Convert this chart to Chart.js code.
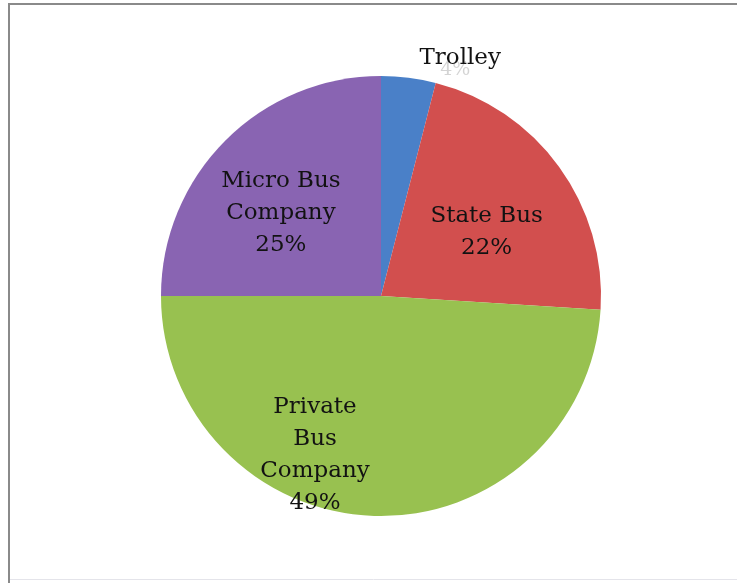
<!DOCTYPE html>
<html>
<head>
<meta charset="utf-8">
<script src="https://cdn.jsdelivr.net/npm/chart.js@4"></script>
<style>
  html, body { margin: 0; padding: 0; background: #fff; }
  #wrap { position: relative; width: 737px; height: 583px; }
</style>
</head>
<body>
<div id="wrap"><canvas id="pieChart" width="737" height="583"></canvas></div>
<script>
// Data for the pie
var labels = ['Trolley', 'State Bus', 'Private Bus Company', 'Micro Bus Company'];
var shares = [4, 22, 49, 25];
var colors = ['#4a80c8', '#d24f4e', '#98c150', '#8964b2'];

// Label text lines and anchor (relative to centre, in units of radius)
var labelLines = [['Trolley'], ['State Bus', '22%'], ['Private', 'Bus', 'Company', '49%'], ['Micro Bus', 'Company', '25%']];
var labelAnchor = [[0.36, -1.08], [0.48, -0.29], [-0.30, 0.725], [-0.455, -0.375]];

var lineH = 32;

// frame around the chart
var framePlugin = {
  id: 'frame',
  beforeDraw: function (chart) {
    var c = chart.ctx;
    c.save();
    c.fillStyle = '#fff';
    c.fillRect(0, 0, chart.width, chart.height);
    c.strokeStyle = '#8a8a8a';
    c.lineWidth = 2;
    c.beginPath();
    c.moveTo(9, 583);
    c.lineTo(9, 4);
    c.lineTo(737, 4);
    c.stroke();
    c.strokeStyle = '#e4e4ea';
    c.lineWidth = 1;
    c.beginPath();
    c.moveTo(10, 579.5);
    c.lineTo(737, 579.5);
    c.stroke();
    c.restore();
  }
};

// text labels drawn on top of the slices
var labelPlugin = {
  id: 'sliceLabels',
  afterDatasetsDraw: function (chart) {
    var c = chart.ctx;
    var arcs = chart.getDatasetMeta(0).data;
    var cx = arcs[0].x, cy = arcs[0].y, r = arcs[0].outerRadius;
    c.save();
    c.font = '23px "DejaVu Serif", serif';
    c.textAlign = 'center';
    c.textBaseline = 'middle';
    labelLines.forEach(function (lines, i) {
      var x = cx + labelAnchor[i][0] * r;
      var y = cy + labelAnchor[i][1] * r - (lines.length - 1) * lineH / 2;
      if (i === 0) {
        // faded value tucked under the Trolley name
        c.font = '19px "DejaVu Serif", serif';
        c.fillStyle = 'rgba(60,60,60,0.22)';
        c.fillText(shares[0] + '%', x - 5, y + 12);
        c.font = '23px "DejaVu Serif", serif';
      }
      c.fillStyle = '#121212';
      lines.forEach(function (t, k) {
        c.fillText(t, x, y + k * lineH);
      });
    });
    c.restore();
  }
};

var ctx = document.getElementById('pieChart').getContext('2d');
var pieChart = new Chart(ctx, {
  type: 'pie',
  data: {
    labels: labels,
    datasets: [{
      data: shares,
      backgroundColor: colors,
      borderWidth: 0
    }]
  },
  options: {
    responsive: false,
    animation: false,
    layout: { padding: { top: 76, bottom: 67, left: 161, right: 136 } },
    plugins: {
      legend: { display: false },
      tooltip: { enabled: false }
    }
  },
  plugins: [framePlugin, labelPlugin]
});
</script>
</body>
</html>
